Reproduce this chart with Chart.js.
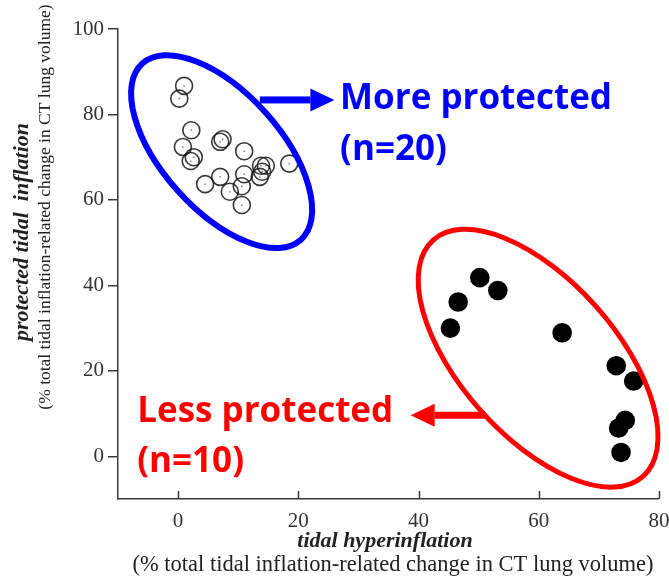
<!DOCTYPE html>
<html>
<head>
<meta charset="utf-8">
<script src="https://cdn.jsdelivr.net/npm/chart.js@4/dist/chart.umd.min.js"></script>
<style>
  html, body { margin: 0; padding: 0; background: #fff; }
</style>
</head>
<body>
<canvas id="chart" width="669" height="580"></canvas>
<script>
// more protected group (open circles)
const protX = [1.0, 0.2, 2.2, 0.8, 2.6, 2.1, 7.4, 7.0, 11.0, 18.5, 4.5, 7.0, 8.6, 11.0, 10.6, 10.6, 13.8, 14.6, 13.6, 14.0];
const protY = [86.7, 83.7, 76.3, 72.4, 70.0, 69.1, 74.2, 73.6, 71.4, 68.5, 63.7, 65.4, 61.9, 66.0, 63.2, 58.8, 68.0, 68.0, 65.4, 66.6];

// less protected group (filled circles)
const lessX = [50.2, 53.2, 46.6, 45.3, 63.9, 72.9, 75.8, 74.4, 73.3, 73.7];
const lessY = [41.8, 38.8, 36.1, 30.0, 28.9, 21.2, 17.6, 8.4, 6.6, 0.9];

const xTicks = [0, 20, 40, 60, 80];
const yTicks = [0, 20, 40, 60, 80, 100];

const xTitle = "tidal hyperinflation";
const yTitle = "protected tidal  inflation";
const subTitle = "(% total tidal inflation-related change in CT lung volume)";

const serif = "'Liberation Serif', 'Times New Roman', serif";
const axisColor = "#3a3a3a";

function toPoints(xs, ys) {
    return xs.map((x, i) => ({ x: x, y: ys[i] }));
}

// ellipses, arrows and labels drawn on top of the plot
const annotations = {
    id: "annotations",
    afterDraw(chart) {
        const ctx = chart.ctx;
        const sx = chart.scales.x, sy = chart.scales.y;
        const px = v => sx.getPixelForValue(v);
        const py = v => sy.getPixelForValue(v);

        // x ticks point inward (up)
        ctx.save();
        ctx.strokeStyle = axisColor;
        ctx.lineWidth = 1.5;
        xTicks.forEach(v => {
            const x = Math.round(px(v)) + 0.5;
            ctx.beginPath();
            ctx.moveTo(x, chart.chartArea.bottom);
            ctx.lineTo(x, chart.chartArea.bottom - 8);
            ctx.stroke();
        });
        ctx.restore();

        // group ellipses
        function ellipse(cx, cy, rx, ry, deg, color, w) {
            ctx.save();
            ctx.strokeStyle = color;
            ctx.lineWidth = w;
            ctx.beginPath();
            ctx.ellipse(px(cx), py(cy), rx, ry, deg * Math.PI / 180, 0, Math.PI * 2);
            ctx.stroke();
            ctx.restore();
        }
        ellipse(7.24, 71.3, 118.5, 58.8, 48, "#0000ff", 6);
        ellipse(59.9, 22.95, 158, 77.7, 48.4, "#ff0000", 5);

        // arrows
        function arrow(x0, x1, yv, color) {
            const a = px(x0), b = px(x1), y = py(yv);
            const dir = b > a ? 1 : -1;
            const base = b - dir * 24;
            ctx.save();
            ctx.fillStyle = color;
            ctx.fillRect(Math.min(a, base), y - 3.5, Math.abs(base - a), 7);
            ctx.beginPath();
            ctx.moveTo(b, y);
            ctx.lineTo(base, y - 11.5);
            ctx.lineTo(base, y + 11.5);
            ctx.closePath();
            ctx.fill();
            ctx.restore();
        }
        arrow(13.6, 26.0, 83.4, "#0000ff");
        arrow(51.1, 38.7, 9.6, "#ff0000");

        // group labels
        ctx.save();
        ctx.font = "bold 35px 'Open Sans', sans-serif";
        ctx.textBaseline = "alphabetic";
        ctx.textAlign = "left";
        ctx.fillStyle = "#0000ff";
        ctx.fillText("More protected", px(26.95), py(81.3));
        ctx.fillText("(n=20)", px(26.95), py(69.3));
        ctx.fillStyle = "#ff0000";
        ctx.fillText("Less protected", px(-6.8), py(8.0));
        ctx.fillText("(n=10)", px(-6.8), py(-3.75));
        ctx.restore();

        // axis titles
        ctx.save();
        ctx.fillStyle = "#222";
        ctx.textAlign = "center";
        ctx.textBaseline = "middle";
        ctx.font = "bold italic 22px " + serif;
        ctx.fillText(xTitle, 385, 541);
        ctx.font = "22.5px " + serif;
        ctx.fillText(subTitle, 393, 565);
        ctx.restore();

        ctx.save();
        ctx.fillStyle = "#222";
        ctx.textAlign = "center";
        ctx.textBaseline = "middle";
        ctx.translate(22, 232);
        ctx.rotate(-Math.PI / 2);
        ctx.font = "bold italic 22px " + serif;
        ctx.fillText(yTitle, 0, 0);
        ctx.restore();

        ctx.save();
        ctx.fillStyle = "#222";
        ctx.textAlign = "center";
        ctx.textBaseline = "middle";
        ctx.translate(45, 207);
        ctx.rotate(-Math.PI / 2);
        ctx.font = "17.5px " + serif;
        ctx.fillText(subTitle, 0, 0);
        ctx.restore();
    }
};

new Chart(document.getElementById("chart"), {
    type: "scatter",
    data: {
        datasets: [
            {
                label: "More protected",
                data: toPoints(protX, protY),
                pointRadius: 8.5,
                borderWidth: 1.6,
                borderColor: "rgba(20,20,20,0.85)",
                backgroundColor: "rgba(0,0,0,0)"
            },
            {
                label: "centres",
                data: toPoints(protX, protY),
                pointRadius: 0.9,
                borderWidth: 0,
                backgroundColor: "#888"
            },
            {
                label: "Less protected",
                data: toPoints(lessX, lessY),
                pointRadius: 9.8,
                borderWidth: 0,
                backgroundColor: "#000"
            }
        ]
    },
    options: {
        responsive: false,
        animation: false,
        devicePixelRatio: 1,
        layout: { padding: { left: 0, top: 29, right: 10, bottom: 0 } },
        plugins: { legend: { display: false }, tooltip: { enabled: false } },
        scales: {
            x: {
                type: "linear",
                min: -10,
                max: 80,
                afterBuildTicks: s => { s.ticks = xTicks.map(v => ({ value: v })); },
                afterFit: s => { s.height = 81; s.paddingLeft = 0; s.paddingRight = 0; },
                grid: { display: false, drawTicks: false },
                border: { display: true, color: axisColor, width: 1.5 },
                ticks: { font: { family: serif, size: 21 }, color: "#333", padding: 10, maxRotation: 0 }
            },
            y: {
                type: "linear",
                min: -10,
                max: 100,
                afterBuildTicks: s => { s.ticks = yTicks.map(v => ({ value: v })); },
                afterFit: s => { s.width = 118; s.paddingTop = 0; s.paddingBottom = 0; },
                grid: { drawOnChartArea: false, drawTicks: true, tickLength: 10, color: axisColor, lineWidth: 1.5 },
                border: { display: true, color: axisColor, width: 1.5 },
                ticks: { font: { family: serif, size: 21 }, color: "#333", padding: 4 }
            }
        }
    },
    plugins: [annotations]
});
</script>
</body>
</html>
